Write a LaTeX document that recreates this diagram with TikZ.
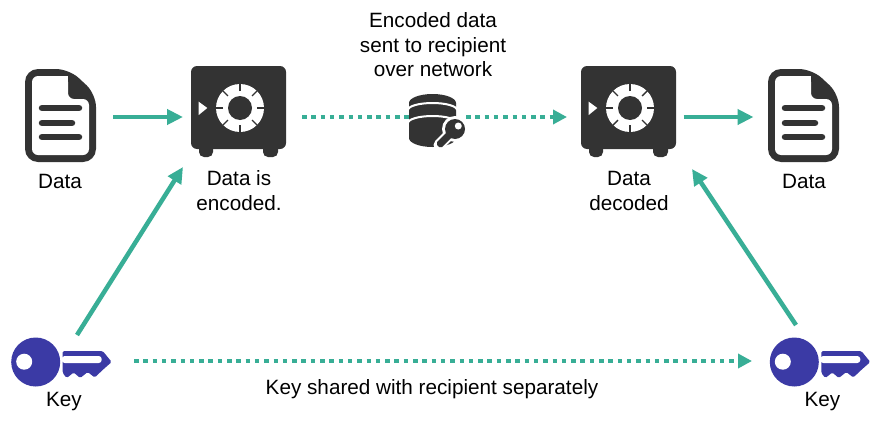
\documentclass[tikz,border=0pt]{standalone}
\usepackage{fontspec}
\setmainfont{Liberation Sans}
\usetikzlibrary{arrows.meta}
\definecolor{teal1}{HTML}{38AE96}
\definecolor{dark1}{HTML}{333333}
\definecolor{purple1}{HTML}{3B3AA5}
\tikzset{
  x=1pt,y=-1pt,
  arr/.style={draw=teal1,line width=4.5pt,-{Triangle[length=16pt,width=15pt]}},
  dotarr/.style={draw=teal1,line width=4.5pt,dash pattern=on 4.5pt off 4.8pt,-{Triangle[length=14pt,width=14pt,fill=teal1]}},
  dotplain/.style={draw=teal1,line width=4.5pt,dash pattern=on 4.5pt off 4.8pt},
  lbl/.style={font=\fontsize{20.7}{24.5}\selectfont,align=center,text=black,inner sep=0pt},
  iconbox/.style={inner sep=0pt,outer sep=0pt,minimum width=#1,minimum height=60pt},
  docicon/.pic={
    \fill[dark1,rounded corners=13pt] (0,0) -- (44,0) -- (71,25) -- (71,93) -- (0,93) -- cycle;
    \fill[white,rounded corners=6pt] (7,7) -- (43,7) -- (43,30) -- (64,30) -- (64,86) -- (7,86) -- cycle;
    \fill[white] (30,7) rectangle (43,18);
    \draw[dark1,line width=6.5pt,line cap=round] (17,39) -- (54,39) (17,54) -- (47,54) (17,68) -- (54,68);
  },
  safeicon/.pic={
    \fill[dark1,rounded corners=5pt] (8,74) rectangle (22,91);
    \fill[dark1,rounded corners=5pt] (72,74) rectangle (87,91);
    \fill[dark1,rounded corners=6pt] (0,0) rectangle (95,83);
    \fill[white] (7.7,35.7) -- (16.3,42) -- (7.7,49) -- cycle;
    \fill[white] (49,42) circle (24);
    \fill[dark1] (49,42) circle (12);
    \foreach \a in {0,45,...,315}
      \draw[dark1,line width=1.4pt] (49,42) ++(\a:17) -- ++(\a:8);
  },
  keyicon/.pic={
    \fill[purple1] (0,0) circle (24.5);
    \fill[white] (-11.5,-0.3) circle (8);
    \fill[purple1,rounded corners=1.5pt] (27,-11) -- (67,-11) -- (76,0) -- (68,7) -- (59,15.5) -- (52,10) -- (44.5,16) -- (38,10.5) -- (31,16) -- (27,11) -- cycle;
    \fill[white,rounded corners=3pt] (26,-6) -- (66,-6) -- (66,1) -- (26,1) -- cycle;
  },
  dbicon/.pic={
    \fill[dark1] (23.5,9) ellipse[x radius=23.5,y radius=9];
    \fill[dark1] (0,9) -- (47,9) -- (47,44) arc[start angle=0,end angle=180,x radius=23.5,y radius=9] -- cycle;
    \draw[white,line width=2pt] (-1,16) arc[start angle=180,end angle=360,x radius=24.5,y radius=7];
    \draw[white,line width=2pt] (-1,29) arc[start angle=180,end angle=360,x radius=24.5,y radius=7];
    \draw[white,line width=11pt,line cap=round] (46,35) -- (30,51);
    \fill[white] (46,35) circle (13);
    \fill[dark1] (46,35) circle (10);
    \fill[dark1] (39,37) -- (44,42) -- (33,53) -- (30,53) -- (28,51) -- (28,48) -- cycle;
    \fill[white] (49.3,32) circle (3.5);
  }
}
\begin{document}
\begin{tikzpicture}
\path[use as bounding box,fill=white] (0,0) rectangle (874,423);
% icons
\node[iconbox=71pt] (doc1) at (60.5,117) {};
\node[iconbox=95pt] (safe1) at (238.5,117) {};
\node[iconbox=47pt] (db) at (432.5,117) {};
\node[iconbox=95pt] (safe2) at (628.5,117) {};
\node[iconbox=71pt] (doc2) at (803.5,117) {};
\node[iconbox=49pt,minimum width=20pt] (key1) at (35.7,362) {};
\node[iconbox=49pt,minimum width=20pt] (key2) at (794.3,362) {};
\pic at (25,69) {docicon};
\pic at (768,69) {docicon};
\pic at (191,66) {safeicon};
\pic at (581,66) {safeicon};
\pic at (409,94) {dbicon};
\pic at (35.7,362) {keyicon};
\pic at (794.3,362) {keyicon};
% connectors
\draw[arr,shorten <=17pt,shorten >=8pt] (doc1.east) -- (safe1.west);
\draw[arr,shorten <=7.5pt,shorten >=-0.5pt] (safe2.east) -- ([xshift=-15pt]doc2.west);
\coordinate (k1s) at (77,335);
\coordinate (k1e) at (183,167);
\coordinate (k2s) at (796,325);
\coordinate (k2e) at (692,169);
\draw[arr] (k1s) -- (k1e);
\draw[arr] (k2s) -- (k2e);
\draw[dotplain,shorten <=16pt,shorten >=-1pt] (safe1.east) -- (db.west);
\draw[dotarr,shorten <=10pt,shorten >=14pt] (db.east) -- (safe2.west);
\coordinate (k3s) at (134,361);
\coordinate (k3e) at (752,361);
\draw[dotarr] (k3s) -- (k3e);
% labels
\node[lbl] (t1) at (60,181) {Data};
\node[lbl] (t2) at (239,190.5) {Data is\\encoded.};
\node[lbl] (t3) at (433,45) {Encoded data\\sent to recipient\\over network};
\node[lbl] (t4) at (629,191) {Data\\decoded};
\node[lbl] (t5) at (804,181) {Data};
\node[lbl] (t6) at (64,401.5) {Key};
\node[lbl] (t7) at (822.5,401.5) {Key};
\node[lbl] (t8) at (432,389.5) {Key shared with recipient separately};
\end{tikzpicture}
\end{document}
